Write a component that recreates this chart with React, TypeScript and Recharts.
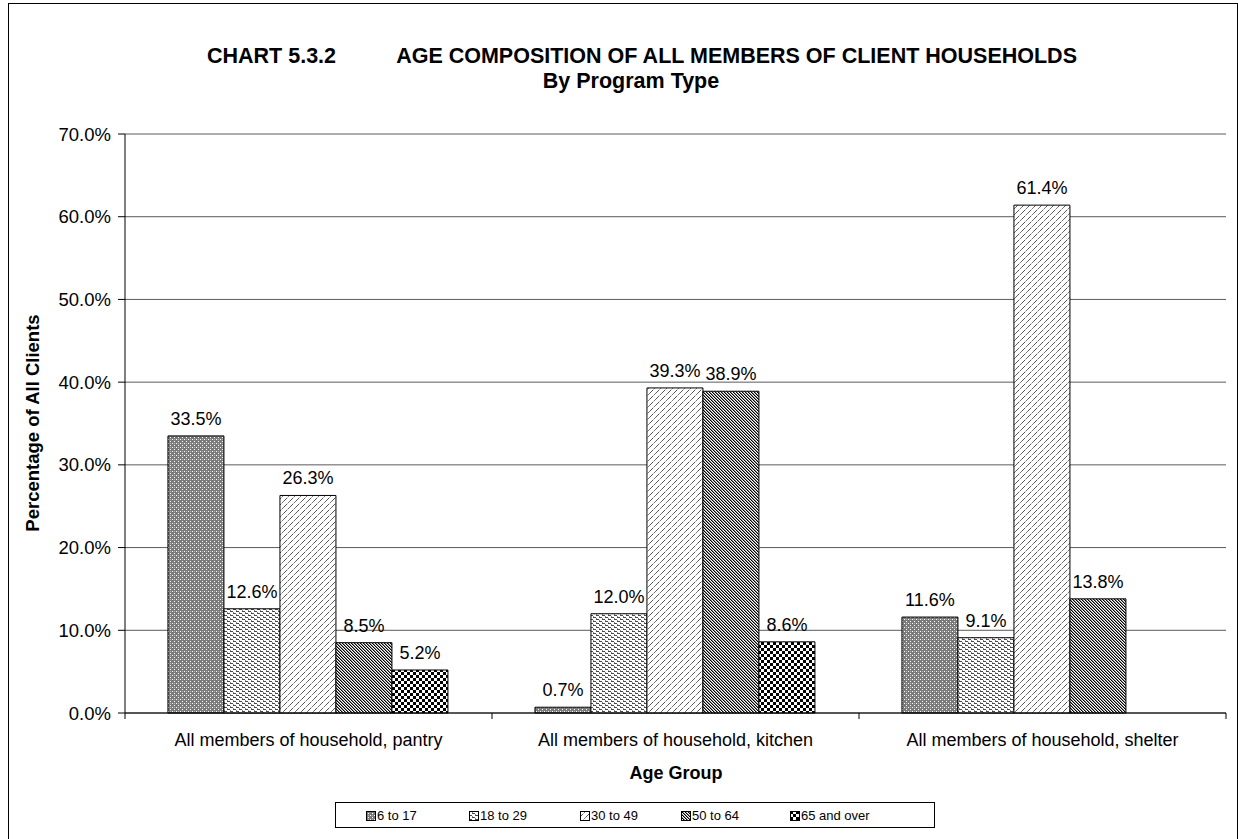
import React from "react"
import { BarChart, Bar, XAxis, YAxis, CartesianGrid, LabelList } from "recharts"

const categories = [
  "All members of household, pantry",
  "All members of household, kitchen",
  "All members of household, shelter",
]
const seriesNames = ["6 to 17", "18 to 29", "30 to 49", "50 to 64", "65 and over"]
const age6to17 = [33.5, 0.7, 11.6]
const age18to29 = [12.6, 12.0, 9.1]
const age30to49 = [26.3, 39.3, 61.4]
const age50to64 = [8.5, 38.9, 13.8]
const age65plus = [5.2, 8.6, 0.0]
const yTicks = [0, 10, 20, 30, 40, 50, 60, 70]

const seriesValues = [age6to17, age18to29, age30to49, age50to64, age65plus]
const keys = ["a", "b", "c", "d", "e"]
const patternIds = ["p617", "p1829", "p3049", "p5064", "p65"]

const data = categories.map((name, i) => {
  const row: Record<string, string | number> = { name }
  keys.forEach((k, j) => (row[k] = seriesValues[j][i]))
  return row
})

const FONT = "Arial, 'Liberation Sans', sans-serif"
const chartW = 1228
const chartH = 836
const yAxisW = 117
const marginRight = 10
const bandW = (chartW - yAxisW - marginRight) / categories.length

function Patterns() {
  return (
    <svg width={0} height={0} style={{ position: "absolute" }}>
      <defs>
        <pattern id="p617" width={4} height={4} patternUnits="userSpaceOnUse">
          <rect width={4} height={4} fill="#7a7a7a" />
          <rect x={0} y={0} width={1} height={1} fill="#fff" />
          <rect x={2} y={2} width={1} height={1} fill="#fff" />
          <rect x={2} y={0} width={1} height={1} fill="#b0b0b0" />
        </pattern>
        <pattern id="p1829" width={6} height={4} patternUnits="userSpaceOnUse">
          <rect width={6} height={4} fill="#fff" />
          <rect x={0} y={0} width={3} height={1} fill="#4a4a4a" />
          <rect x={3} y={1} width={1} height={1} fill="#888" />
          <rect x={3} y={2} width={3} height={1} fill="#4a4a4a" />
          <rect x={0} y={3} width={1} height={1} fill="#888" />
        </pattern>
        <pattern id="p3049" width={6} height={6} patternUnits="userSpaceOnUse">
          <rect width={6} height={6} fill="#fff" />
          <rect x={0} y={5} width={1} height={1} fill="#555" />
          <rect x={1} y={4} width={1} height={1} fill="#555" />
          <rect x={2} y={3} width={1} height={1} fill="#555" />
          <rect x={3} y={2} width={1} height={1} fill="#bbb" />
          <rect x={4} y={1} width={1} height={1} fill="#777" />
          <rect x={5} y={0} width={1} height={1} fill="#777" />
        </pattern>
        <pattern id="p5064" width={3} height={3} patternUnits="userSpaceOnUse">
          <rect width={3} height={3} fill="#fff" />
          <rect x={0} y={0} width={1} height={1} fill="#000" />
          <rect x={1} y={1} width={1} height={1} fill="#000" />
          <rect x={2} y={2} width={1} height={1} fill="#000" />
          <rect x={1} y={0} width={1} height={1} fill="#888" />
          <rect x={2} y={1} width={1} height={1} fill="#888" />
          <rect x={0} y={2} width={1} height={1} fill="#888" />
        </pattern>
        <pattern id="p65" width={6} height={6} patternUnits="userSpaceOnUse">
          <rect width={6} height={6} fill="#fff" />
          <rect x={0} y={0} width={3} height={3} fill="#000" />
          <rect x={3} y={3} width={3} height={3} fill="#000" />
        </pattern>
      </defs>
    </svg>
  )
}

function XTick(props: any) {
  const { x, y, payload, index } = props
  const isLast = index === categories.length - 1
  return (
    <g>
      <line x1={x - bandW / 2} x2={x - bandW / 2} y1={y} y2={y + 6} stroke="#000" />
      {isLast && <line x1={x + bandW / 2} x2={x + bandW / 2} y1={y} y2={y + 6} stroke="#000" />}
      <text x={x} y={y + 33} textAnchor="middle" fontSize={18} fontFamily={FONT} fill="#000">
        {payload.value}
      </text>
    </g>
  )
}

const legendX = [30, 133, 244, 345, 454]

const titleStyle: React.CSSProperties = {
  position: "absolute",
  fontWeight: "bold",
  fontSize: 21.5,
  lineHeight: 0.95,
  whiteSpace: "nowrap",
}

export default function App() {
  return (
    <div
      style={{
        position: "absolute",
        left: 8,
        top: 3,
        width: 1230,
        height: 850,
        boxSizing: "border-box",
        border: "1px solid #000",
        fontFamily: FONT,
        background: "#fff",
        overflow: "hidden",
      }}
    >
      <Patterns />
      <div style={{ position: "absolute", left: -1, top: -1 }}>
        <BarChart
          width={chartW}
          height={chartH}
          data={data}
          margin={{ top: 131, right: marginRight, bottom: 86, left: 0 }}
          barCategoryGap="11.7%"
          barGap={0}
        >
          <CartesianGrid vertical={false} stroke="#5a5a5a" />
          <XAxis
            dataKey="name"
            height={40}
            stroke="#000"
            tickLine={false}
            tickSize={0}
            tickMargin={0}
            tick={<XTick />}
            interval={0}
          />
          <YAxis
            width={yAxisW}
            domain={[0, 70]}
            ticks={yTicks}
            stroke="#000"
            tickSize={7}
            tickMargin={7}
            tickFormatter={(v: number) => v.toFixed(1) + "%"}
            tick={{ fontSize: 18.5, fill: "#000", fontFamily: FONT }}
          />
          {keys.map((k, j) => (
            <Bar
              key={k}
              dataKey={k}
              name={seriesNames[j]}
              fill={`url(#${patternIds[j]})`}
              stroke="#000"
              strokeWidth={1}
              isAnimationActive={false}
            >
              <LabelList
                dataKey={k}
                position="top"
                offset={11}
                formatter={(v: any) => Number(v).toFixed(1) + "%"}
                style={{ fontSize: 18, fill: "#000", fontFamily: FONT }}
              />
            </Bar>
          ))}
        </BarChart>
      </div>

      <div style={{ ...titleStyle, left: 198, top: 42 }}>CHART 5.3.2</div>
      <div style={{ ...titleStyle, right: 160, top: 42 }}>
        AGE COMPOSITION OF ALL MEMBERS OF CLIENT HOUSEHOLDS
      </div>
      <div style={{ ...titleStyle, left: 22, width: 1200, top: 67, textAlign: "center" }}>
        By Program Type
      </div>

      <div style={{ position: "absolute", left: 24, top: 419, width: 0, height: 0 }}>
        <div
          style={{
            position: "absolute",
            transform: "translate(-50%, -50%) rotate(-90deg)",
            whiteSpace: "nowrap",
            fontWeight: "bold",
            fontSize: 18.5,
          }}
        >
          Percentage of All Clients
        </div>
      </div>

      <div
        style={{
          position: "absolute",
          left: 567,
          width: 200,
          top: 759,
          textAlign: "center",
          fontWeight: "bold",
          fontSize: 18,
        }}
      >
        Age Group
      </div>

      <div
        style={{
          position: "absolute",
          left: 326,
          top: 798,
          width: 600,
          height: 26,
          boxSizing: "border-box",
          border: "1px solid #000",
          fontSize: 13,
        }}
      >
        {seriesNames.map((s, j) => (
          <div
            key={s}
            style={{
              position: "absolute",
              left: legendX[j],
              top: 5,
              display: "flex",
              alignItems: "center",
              whiteSpace: "nowrap",
            }}
          >
            <svg width={10} height={10} style={{ marginRight: 1 }}>
              <rect x={0.5} y={0.5} width={9} height={9} fill={`url(#${patternIds[j]})`} stroke="#000" />
            </svg>
            {s}
          </div>
        ))}
      </div>
    </div>
  )
}
